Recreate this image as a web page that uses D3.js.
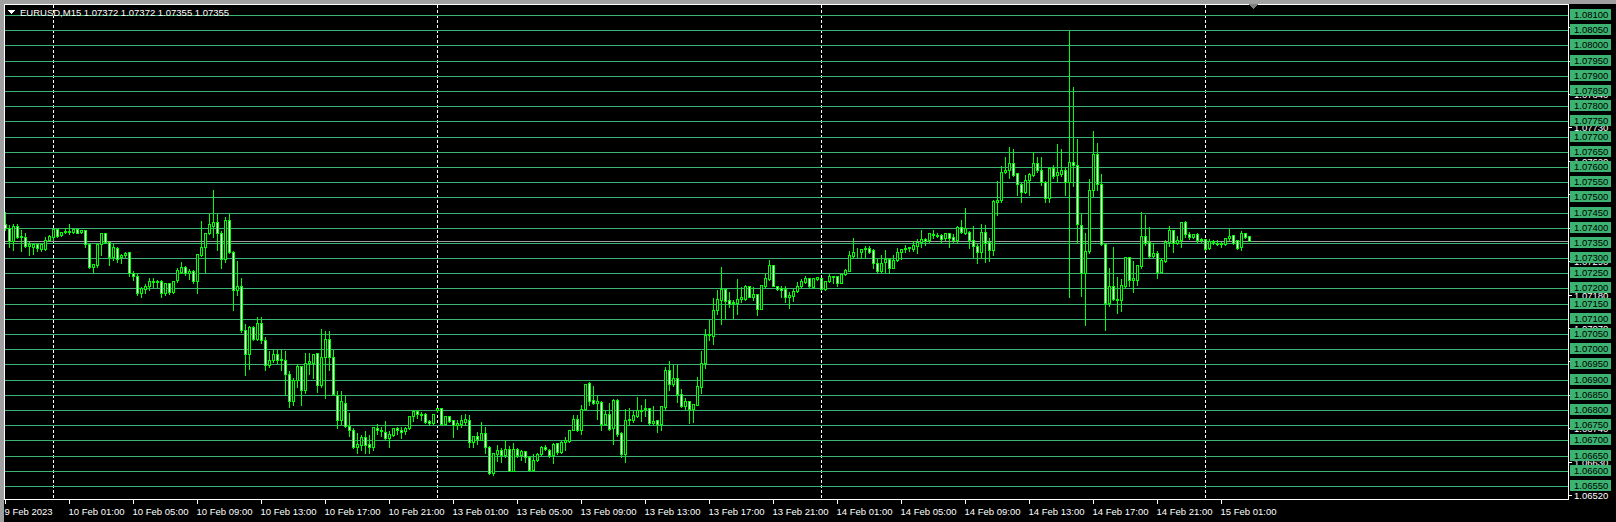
<!DOCTYPE html>
<html>
<head>
<meta charset="utf-8">
<script src="https://cdn.jsdelivr.net/npm/d3@7"></script>
<style>
html, body { margin: 0; padding: 0; background: #000; overflow: hidden; }
svg { display: block; }
text { font-family: "Liberation Sans", Arial, sans-serif; font-size: 9.5px; }
</style>
</head>
<body>
<div id="chart"></div>
<script>
const title = "EURUSD,M15  1.07372 1.07372 1.07355 1.07355"

// two trading sessions (weekend gap between them), M15 bars
const sessions = [
  { start: "2023-02-09T21:00", bars: 108 },
  { start: "2023-02-13T00:00", bars: 204 }
]

const opens = [
  1.07412, 1.07399, 1.07357, 1.07406, 1.07371, 1.07371, 1.07341, 1.07336, 1.07347, 1.07330,
  1.07330, 1.07360, 1.07369, 1.07396, 1.07376, 1.07385, 1.07390, 1.07387, 1.07395, 1.07385,
  1.07391, 1.07347, 1.07272, 1.07277, 1.07347, 1.07382, 1.07352, 1.07303, 1.07332, 1.07303,
  1.07309, 1.07319, 1.07250, 1.07242, 1.07184, 1.07197, 1.07208, 1.07225, 1.07220, 1.07225,
  1.07184, 1.07217, 1.07190, 1.07228, 1.07255, 1.07270, 1.07252, 1.07259, 1.07226, 1.07310,
  1.07336, 1.07382, 1.07407, 1.07418, 1.07382, 1.07297, 1.07424, 1.07319, 1.07195, 1.07209,
  1.07065, 1.06983, 1.07072, 1.07035, 1.07085, 1.07032, 1.06947, 1.06966, 1.06984, 1.06966,
  1.06966, 1.06920, 1.06829, 1.06900, 1.06944, 1.06867, 1.06956, 1.06956, 1.06988, 1.06882,
  1.06975, 1.07035, 1.06973, 1.06851, 1.06768, 1.06824, 1.06749, 1.06735, 1.06680, 1.06686,
  1.06711, 1.06687, 1.06678, 1.06742, 1.06735, 1.06727, 1.06708, 1.06719, 1.06741, 1.06735,
  1.06730, 1.06741, 1.06780, 1.06797, 1.06788, 1.06786, 1.06763, 1.06758, 1.06799, 1.06808,
  1.06755, 1.06779, 1.06766, 1.06750, 1.06755, 1.06761, 1.06768, 1.06695, 1.06714, 1.06703,
  1.06725, 1.06680, 1.06592, 1.06656, 1.06667, 1.06651, 1.06673, 1.06599, 1.06673, 1.06653,
  1.06664, 1.06647, 1.06603, 1.06634, 1.06656, 1.06680, 1.06670, 1.06651, 1.06691, 1.06662,
  1.06695, 1.06698, 1.06735, 1.06772, 1.06735, 1.06805, 1.06890, 1.06832, 1.06824, 1.06827,
  1.06755, 1.06788, 1.06742, 1.06834, 1.06725, 1.06656, 1.06766, 1.06768, 1.06780, 1.06801,
  1.06802, 1.06808, 1.06757, 1.06766, 1.06753, 1.06810, 1.06933, 1.06887, 1.06904, 1.06854,
  1.06813, 1.06829, 1.06802, 1.06818, 1.06876, 1.06955, 1.07047, 1.07044, 1.07129, 1.07162,
  1.07197, 1.07162, 1.07151, 1.07151, 1.07164, 1.07165, 1.07208, 1.07173, 1.07181, 1.07134,
  1.07209, 1.07230, 1.07277, 1.07209, 1.07200, 1.07197, 1.07171, 1.07176, 1.07192, 1.07209,
  1.07222, 1.07233, 1.07206, 1.07231, 1.07233, 1.07198, 1.07225, 1.07239, 1.07241, 1.07219,
  1.07248, 1.07259, 1.07308, 1.07321, 1.07319, 1.07329, 1.07332, 1.07327, 1.07283, 1.07259,
  1.07286, 1.07297, 1.07269, 1.07294, 1.07319, 1.07329, 1.07332, 1.07329, 1.07341, 1.07354,
  1.07363, 1.07358, 1.07379, 1.07376, 1.07376, 1.07365, 1.07382, 1.07369, 1.07360, 1.07402,
  1.07382, 1.07385, 1.07360, 1.07341, 1.07319, 1.07387, 1.07354, 1.07327, 1.07486, 1.07490,
  1.07585, 1.07589, 1.07613, 1.07580, 1.07544, 1.07516, 1.07556, 1.07574, 1.07613, 1.07589,
  1.07552, 1.07497, 1.07596, 1.07572, 1.07578, 1.07589, 1.07552, 1.07616, 1.07605, 1.07410,
  1.07250, 1.07322, 1.07523, 1.07644, 1.07544, 1.07346, 1.07153, 1.07209, 1.07164, 1.07162,
  1.07209, 1.07302, 1.07228, 1.07228, 1.07275, 1.07373, 1.07354, 1.07308, 1.07316, 1.07255,
  1.07292, 1.07352, 1.07393, 1.07351, 1.07358, 1.07418, 1.07379, 1.07371, 1.07380, 1.07360,
  1.07363, 1.07332, 1.07357, 1.07351, 1.07347, 1.07347, 1.07365, 1.07376, 1.07358, 1.07335,
  1.07382, 1.07372
]

const highs = [
  1.07456, 1.07412, 1.07415, 1.07417, 1.07396, 1.07387, 1.07357, 1.07354, 1.07351, 1.07354,
  1.07373, 1.07380, 1.07398, 1.07398, 1.07387, 1.07404, 1.07417, 1.07398, 1.07397, 1.07395,
  1.07393, 1.07349, 1.07283, 1.07349, 1.07384, 1.07387, 1.07354, 1.07349, 1.07340, 1.07318,
  1.07325, 1.07321, 1.07261, 1.07255, 1.07208, 1.07217, 1.07239, 1.07239, 1.07230, 1.07230,
  1.07222, 1.07222, 1.07228, 1.07270, 1.07291, 1.07277, 1.07266, 1.07263, 1.07316, 1.07426,
  1.07387, 1.07448, 1.07528, 1.07448, 1.07393, 1.07437, 1.07450, 1.07327, 1.07294, 1.07237,
  1.07087, 1.07079, 1.07079, 1.07110, 1.07110, 1.07043, 1.06997, 1.07002, 1.07002, 1.07002,
  1.06997, 1.06933, 1.06909, 1.06956, 1.06948, 1.06992, 1.06992, 1.06986, 1.06992, 1.07071,
  1.07063, 1.07065, 1.07002, 1.06867, 1.06867, 1.06851, 1.06793, 1.06744, 1.06727, 1.06722,
  1.06735, 1.06722, 1.06746, 1.06757, 1.06746, 1.06766, 1.06733, 1.06744, 1.06746, 1.06746,
  1.06746, 1.06785, 1.06802, 1.06805, 1.06797, 1.06793, 1.06772, 1.06790, 1.06810, 1.06810,
  1.06782, 1.06782, 1.06768, 1.06772, 1.06788, 1.06791, 1.06786, 1.06716, 1.06731, 1.06763,
  1.06746, 1.06684, 1.06662, 1.06687, 1.06680, 1.06705, 1.06684, 1.06695, 1.06680, 1.06673,
  1.06667, 1.06653, 1.06659, 1.06662, 1.06684, 1.06689, 1.06676, 1.06695, 1.06695, 1.06702,
  1.06716, 1.06739, 1.06788, 1.06788, 1.06821, 1.06889, 1.06895, 1.06882, 1.06852, 1.06832,
  1.06805, 1.06827, 1.06838, 1.06838, 1.06731, 1.06807, 1.06810, 1.06801, 1.06845, 1.06819,
  1.06841, 1.06810, 1.06816, 1.06772, 1.06816, 1.06944, 1.06964, 1.06953, 1.06953, 1.06874,
  1.06843, 1.06832, 1.06821, 1.06911, 1.06999, 1.07069, 1.07098, 1.07171, 1.07197, 1.07274,
  1.07200, 1.07192, 1.07164, 1.07236, 1.07208, 1.07214, 1.07211, 1.07208, 1.07184, 1.07214,
  1.07250, 1.07297, 1.07281, 1.07211, 1.07211, 1.07211, 1.07193, 1.07200, 1.07225, 1.07233,
  1.07244, 1.07237, 1.07236, 1.07241, 1.07239, 1.07228, 1.07250, 1.07244, 1.07244, 1.07250,
  1.07266, 1.07327, 1.07371, 1.07336, 1.07332, 1.07343, 1.07343, 1.07332, 1.07305, 1.07314,
  1.07329, 1.07303, 1.07314, 1.07338, 1.07332, 1.07347, 1.07340, 1.07360, 1.07365, 1.07396,
  1.07371, 1.07384, 1.07396, 1.07387, 1.07384, 1.07387, 1.07387, 1.07384, 1.07410, 1.07429,
  1.07468, 1.07391, 1.07410, 1.07351, 1.07415, 1.07413, 1.07371, 1.07494, 1.07558, 1.07607,
  1.07637, 1.07670, 1.07662, 1.07585, 1.07552, 1.07578, 1.07582, 1.07654, 1.07635, 1.07637,
  1.07558, 1.07604, 1.07611, 1.07679, 1.07662, 1.07602, 1.08050, 1.07868, 1.07696, 1.07448,
  1.07385, 1.07564, 1.07723, 1.07682, 1.07580, 1.07349, 1.07270, 1.07340, 1.07241, 1.07233,
  1.07305, 1.07305, 1.07294, 1.07280, 1.07456, 1.07446, 1.07406, 1.07354, 1.07327, 1.07305,
  1.07363, 1.07410, 1.07395, 1.07376, 1.07423, 1.07424, 1.07390, 1.07384, 1.07385, 1.07371,
  1.07365, 1.07365, 1.07362, 1.07362, 1.07357, 1.07368, 1.07398, 1.07379, 1.07362, 1.07391,
  1.07385, 1.07372
]

const lows = [
  1.07393, 1.07338, 1.07327, 1.07365, 1.07325, 1.07338, 1.07310, 1.07314, 1.07322, 1.07325,
  1.07327, 1.07358, 1.07360, 1.07371, 1.07374, 1.07382, 1.07380, 1.07382, 1.07382, 1.07382,
  1.07338, 1.07266, 1.07255, 1.07270, 1.07310, 1.07349, 1.07277, 1.07294, 1.07288, 1.07285,
  1.07303, 1.07241, 1.07228, 1.07178, 1.07173, 1.07184, 1.07195, 1.07206, 1.07206, 1.07171,
  1.07178, 1.07182, 1.07186, 1.07222, 1.07250, 1.07244, 1.07231, 1.07217, 1.07186, 1.07307,
  1.07255, 1.07380, 1.07368, 1.07327, 1.07266, 1.07288, 1.07316, 1.07129, 1.07178, 1.07057,
  1.06914, 1.06936, 1.07030, 1.07030, 1.07019, 1.06933, 1.06942, 1.06958, 1.06956, 1.06931,
  1.06854, 1.06810, 1.06816, 1.06876, 1.06816, 1.06856, 1.06920, 1.06904, 1.06860, 1.06876,
  1.06840, 1.06933, 1.06848, 1.06742, 1.06755, 1.06744, 1.06716, 1.06675, 1.06658, 1.06669,
  1.06658, 1.06658, 1.06669, 1.06722, 1.06716, 1.06705, 1.06678, 1.06716, 1.06722, 1.06708,
  1.06722, 1.06739, 1.06764, 1.06775, 1.06766, 1.06757, 1.06750, 1.06755, 1.06793, 1.06753,
  1.06753, 1.06761, 1.06711, 1.06739, 1.06744, 1.06750, 1.06680, 1.06678, 1.06687, 1.06700,
  1.06658, 1.06590, 1.06585, 1.06632, 1.06629, 1.06645, 1.06598, 1.06598, 1.06645, 1.06636,
  1.06629, 1.06601, 1.06601, 1.06632, 1.06653, 1.06667, 1.06645, 1.06625, 1.06656, 1.06658,
  1.06667, 1.06695, 1.06733, 1.06731, 1.06720, 1.06802, 1.06816, 1.06819, 1.06772, 1.06733,
  1.06750, 1.06735, 1.06687, 1.06716, 1.06645, 1.06629, 1.06750, 1.06761, 1.06777, 1.06764,
  1.06779, 1.06750, 1.06755, 1.06728, 1.06733, 1.06805, 1.06867, 1.06878, 1.06827, 1.06810,
  1.06805, 1.06757, 1.06759, 1.06816, 1.06856, 1.06940, 1.07032, 1.07017, 1.07116, 1.07083,
  1.07098, 1.07140, 1.07104, 1.07116, 1.07156, 1.07162, 1.07171, 1.07162, 1.07112, 1.07132,
  1.07206, 1.07228, 1.07208, 1.07195, 1.07173, 1.07156, 1.07137, 1.07160, 1.07190, 1.07206,
  1.07219, 1.07206, 1.07203, 1.07228, 1.07195, 1.07195, 1.07222, 1.07217, 1.07209, 1.07217,
  1.07244, 1.07258, 1.07299, 1.07305, 1.07299, 1.07299, 1.07316, 1.07266, 1.07255, 1.07255,
  1.07255, 1.07250, 1.07266, 1.07292, 1.07296, 1.07321, 1.07325, 1.07324, 1.07318, 1.07336,
  1.07343, 1.07354, 1.07365, 1.07369, 1.07351, 1.07360, 1.07338, 1.07354, 1.07351, 1.07384,
  1.07380, 1.07332, 1.07305, 1.07285, 1.07299, 1.07288, 1.07292, 1.07310, 1.07442, 1.07486,
  1.07580, 1.07563, 1.07569, 1.07508, 1.07486, 1.07514, 1.07508, 1.07571, 1.07582, 1.07541,
  1.07486, 1.07486, 1.07563, 1.07549, 1.07569, 1.07508, 1.07173, 1.07536, 1.07349, 1.07175,
  1.07080, 1.07316, 1.07503, 1.07525, 1.07343, 1.07063, 1.07142, 1.07162, 1.07118, 1.07127,
  1.07206, 1.07209, 1.07190, 1.07211, 1.07266, 1.07343, 1.07303, 1.07303, 1.07233, 1.07253,
  1.07288, 1.07340, 1.07321, 1.07347, 1.07335, 1.07369, 1.07364, 1.07365, 1.07354, 1.07354,
  1.07327, 1.07329, 1.07347, 1.07343, 1.07338, 1.07343, 1.07360, 1.07347, 1.07329, 1.07327,
  1.07365, 1.07355
]

const closes = [
  1.07399, 1.07357, 1.07407, 1.07371, 1.07373, 1.07341, 1.07347, 1.07347, 1.07333, 1.07347,
  1.07360, 1.07374, 1.07396, 1.07374, 1.07385, 1.07390, 1.07387, 1.07395, 1.07384, 1.07393,
  1.07347, 1.07272, 1.07281, 1.07347, 1.07382, 1.07354, 1.07305, 1.07336, 1.07296, 1.07310,
  1.07318, 1.07250, 1.07241, 1.07184, 1.07200, 1.07208, 1.07225, 1.07220, 1.07225, 1.07184,
  1.07217, 1.07190, 1.07226, 1.07261, 1.07270, 1.07252, 1.07259, 1.07226, 1.07314, 1.07338,
  1.07382, 1.07413, 1.07418, 1.07382, 1.07297, 1.07424, 1.07319, 1.07195, 1.07209, 1.07065,
  1.06983, 1.07072, 1.07035, 1.07088, 1.07032, 1.06947, 1.06966, 1.06984, 1.06966, 1.06969,
  1.06920, 1.06829, 1.06900, 1.06944, 1.06867, 1.06956, 1.06961, 1.06983, 1.06882, 1.06975,
  1.07035, 1.06975, 1.06854, 1.06766, 1.06829, 1.06749, 1.06735, 1.06680, 1.06687, 1.06711,
  1.06684, 1.06678, 1.06744, 1.06735, 1.06731, 1.06708, 1.06720, 1.06741, 1.06735, 1.06727,
  1.06741, 1.06780, 1.06797, 1.06788, 1.06785, 1.06761, 1.06758, 1.06788, 1.06808, 1.06755,
  1.06779, 1.06764, 1.06750, 1.06758, 1.06766, 1.06769, 1.06695, 1.06714, 1.06705, 1.06724,
  1.06678, 1.06592, 1.06658, 1.06667, 1.06651, 1.06673, 1.06601, 1.06673, 1.06653, 1.06665,
  1.06645, 1.06603, 1.06636, 1.06656, 1.06680, 1.06673, 1.06651, 1.06687, 1.06662, 1.06695,
  1.06700, 1.06735, 1.06772, 1.06735, 1.06805, 1.06887, 1.06830, 1.06824, 1.06829, 1.06755,
  1.06788, 1.06739, 1.06834, 1.06722, 1.06656, 1.06768, 1.06772, 1.06785, 1.06801, 1.06797,
  1.06808, 1.06757, 1.06763, 1.06755, 1.06813, 1.06933, 1.06885, 1.06904, 1.06852, 1.06813,
  1.06829, 1.06802, 1.06819, 1.06878, 1.06956, 1.07047, 1.07049, 1.07129, 1.07164, 1.07197,
  1.07160, 1.07149, 1.07155, 1.07167, 1.07171, 1.07208, 1.07173, 1.07182, 1.07134, 1.07211,
  1.07233, 1.07277, 1.07209, 1.07197, 1.07195, 1.07171, 1.07178, 1.07192, 1.07209, 1.07225,
  1.07233, 1.07209, 1.07233, 1.07239, 1.07198, 1.07226, 1.07241, 1.07241, 1.07219, 1.07248,
  1.07261, 1.07310, 1.07321, 1.07319, 1.07329, 1.07332, 1.07321, 1.07283, 1.07259, 1.07285,
  1.07297, 1.07269, 1.07294, 1.07319, 1.07329, 1.07332, 1.07336, 1.07343, 1.07354, 1.07363,
  1.07357, 1.07382, 1.07376, 1.07373, 1.07362, 1.07384, 1.07365, 1.07358, 1.07402, 1.07387,
  1.07398, 1.07358, 1.07341, 1.07319, 1.07385, 1.07351, 1.07327, 1.07489, 1.07492, 1.07585,
  1.07591, 1.07613, 1.07574, 1.07544, 1.07516, 1.07558, 1.07578, 1.07613, 1.07589, 1.07552,
  1.07497, 1.07596, 1.07569, 1.07582, 1.07591, 1.07552, 1.07616, 1.07605, 1.07412, 1.07250,
  1.07324, 1.07525, 1.07644, 1.07544, 1.07346, 1.07153, 1.07209, 1.07164, 1.07162, 1.07211,
  1.07302, 1.07228, 1.07233, 1.07277, 1.07373, 1.07349, 1.07308, 1.07318, 1.07255, 1.07294,
  1.07354, 1.07393, 1.07351, 1.07360, 1.07418, 1.07380, 1.07371, 1.07380, 1.07360, 1.07363,
  1.07329, 1.07357, 1.07352, 1.07347, 1.07351, 1.07365, 1.07373, 1.07351, 1.07332, 1.07382,
  1.07371, 1.07355
]

// horizontal line objects, each with its price label
const levels = [
  "1.08100", "1.08050", "1.08000", "1.07950", "1.07900", "1.07850", "1.07800", "1.07750",
  "1.07700", "1.07650", "1.07600", "1.07550", "1.07500", "1.07450", "1.07400", "1.07350",
  "1.07300", "1.07250", "1.07200", "1.07150", "1.07100", "1.07050", "1.07000", "1.06950",
  "1.06900", "1.06850", "1.06800", "1.06750", "1.06700", "1.06650", "1.06600", "1.06550"
]
// price scale ticks (mostly covered by the line labels)
const priceTicks = [
  "1.08060", "1.07950", "1.07840", "1.07730", "1.07620", "1.07510", "1.07400", "1.07290",
  "1.07180", "1.07070", "1.06960", "1.06850", "1.06740", "1.06630", "1.06520"
]
const timeLabels = [
  "9 Feb 2023", "10 Feb 01:00", "10 Feb 05:00", "10 Feb 09:00", "10 Feb 13:00", "10 Feb 17:00",
  "10 Feb 21:00", "13 Feb 01:00", "13 Feb 05:00", "13 Feb 09:00", "13 Feb 13:00", "13 Feb 17:00",
  "13 Feb 21:00", "14 Feb 01:00", "14 Feb 05:00", "14 Feb 09:00", "14 Feb 13:00", "14 Feb 17:00",
  "14 Feb 21:00", "15 Feb 01:00"
]
const labelEvery = 16 // bars between time labels
const bid = 1.07355

const W = 1616, H = 522
const frame = { left: 4, top: 4, right: 1568, bottom: 499 }
const priceMin = 1.065056, priceMax = 1.081346 // visible price range of the window

const lime = "#00ff00", lineGreen = "#3cb371"

// bar times
const parse = d3.timeParse("%Y-%m-%dT%H:%M")
const times = []
sessions.forEach(s => {
  const t0 = parse(s.start)
  for (let k = 0; k < s.bars; k++) times.push(d3.timeMinute.offset(t0, 15 * k))
})
const bars = opens.map((o, i) => ({ i, time: times[i], open: o, high: highs[i], low: lows[i], close: closes[i] }))

const svg = d3.select("#chart").append("svg")
  .attr("width", W).attr("height", H)
  .attr("shape-rendering", "crispEdges")

svg.append("rect").attr("width", W).attr("height", H).attr("fill", "#000")
// window edge
svg.append("rect").attr("x", 0).attr("y", 0).attr("width", 4).attr("height", H).attr("fill", "#a0a0a0")
svg.append("rect").attr("x", 0).attr("y", 0).attr("width", W).attr("height", 4).attr("fill", "#a0a0a0")

const x = d3.scaleBand().domain(d3.range(bars.length)).range([3.5, 3.5 + 4 * bars.length])
const cx = i => x(i) + 2
const y = d3.scaleLinear().domain([priceMin, priceMax]).range([frame.bottom + 0.5, frame.top + 0.5])
const snap = v => Math.round(v) + 0.5

// day separators
const daySeps = bars.filter(d => d.time.getHours() === 0 && d.time.getMinutes() === 0)
svg.append("g").selectAll("line").data(daySeps).join("line")
  .attr("x1", d => cx(d.i)).attr("x2", d => cx(d.i))
  .attr("y1", frame.top + 1).attr("y2", frame.bottom)
  .attr("stroke", "#fff").attr("stroke-dasharray", "3,2")

// horizontal lines
svg.append("g").selectAll("line").data(levels).join("line")
  .attr("x1", frame.left + 1).attr("x2", frame.right)
  .attr("y1", d => snap(y(+d))).attr("y2", d => snap(y(+d)))
  .attr("stroke", lineGreen)

// bid line
svg.append("line")
  .attr("x1", frame.left + 1).attr("x2", frame.right)
  .attr("y1", snap(y(bid))).attr("y2", snap(y(bid)))
  .attr("stroke", "#a0a0a0")

// candles
const candles = svg.append("g").selectAll("g").data(bars).join("g")
candles.append("line")
  .attr("x1", d => cx(d.i)).attr("x2", d => cx(d.i))
  .attr("y1", d => snap(y(d.high))).attr("y2", d => snap(y(d.low)) + 0.5)
  .attr("stroke", lime)
candles.append("rect")
  .attr("x", d => cx(d.i) - 1)
  .attr("y", d => snap(y(Math.max(d.open, d.close))))
  .attr("width", 2)
  .attr("height", d => Math.round(y(Math.min(d.open, d.close))) - Math.round(y(Math.max(d.open, d.close))))
  .attr("fill", d => d.close >= d.open ? "#000" : "#fff")
  .attr("stroke", lime)

// frame
svg.append("rect")
  .attr("x", frame.left + 0.5).attr("y", frame.top + 0.5)
  .attr("width", frame.right - frame.left).attr("height", frame.bottom - frame.top)
  .attr("fill", "none").attr("stroke", "#fff")

// chart shift marker
svg.append("path")
  .attr("d", "M1248,4L1258,4L1253,9Z")
  .attr("fill", "#808080")

// price scale
const pAxis = svg.append("g")
pAxis.selectAll("line").data(priceTicks).join("line")
  .attr("x1", frame.right + 1).attr("x2", frame.right + 4)
  .attr("y1", d => snap(y(+d))).attr("y2", d => snap(y(+d)))
  .attr("stroke", "#fff")
pAxis.selectAll("text").data(priceTicks).join("text")
  .attr("x", frame.right + 6).attr("y", d => Math.round(y(+d)) + 4)
  .attr("fill", "#fff")
  .text(d => d)

const tags = svg.append("g").selectAll("g").data(levels).join("g")
  .attr("transform", d => "translate(" + (frame.right + 2) + "," + (Math.round(y(+d)) - 6) + ")")
tags.append("rect").attr("width", 41).attr("height", 11).attr("fill", lineGreen)
tags.append("text").attr("x", 4).attr("y", 9).attr("fill", "#000").text(d => d)

// time scale
const tickBars = bars.filter(d => d.i % labelEvery === 0)
const tAxis = svg.append("g")
tAxis.selectAll("line").data(tickBars).join("line")
  .attr("x1", d => cx(d.i)).attr("x2", d => cx(d.i))
  .attr("y1", frame.bottom + 1).attr("y2", frame.bottom + 5)
  .attr("stroke", "#fff")
tAxis.selectAll("text").data(tickBars).join("text")
  .attr("x", d => cx(d.i) - 1).attr("y", frame.bottom + 16)
  .attr("fill", "#fff")
  .text((d, k) => timeLabels[k])

// title
svg.append("path").attr("d", "M8,10L15,10L11.5,14Z").attr("fill", "#fff")
svg.append("text").attr("x", 20).attr("y", 16).attr("fill", "#fff").text(title)
</script>
</body>
</html>
